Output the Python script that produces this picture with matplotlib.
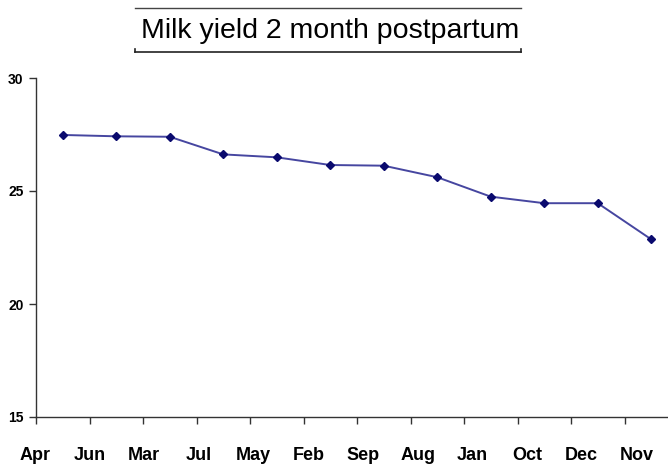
import matplotlib
matplotlib.use("Agg")
import matplotlib.pyplot as plt
import matplotlib.transforms as mtransforms
from matplotlib.lines import Line2D

months = ["Apr", "Jun", "Mar", "Jul", "May", "Feb",
          "Sep", "Aug", "Jan", "Oct", "Dec", "Nov"]
milk_yield = [27.48, 27.42, 27.40, 26.62, 26.49, 26.15,
              26.12, 25.61, 24.75, 24.46, 24.46, 22.86]
y_ticks = [15, 20, 25, 30]

plt.rcParams['font.family'] = ['Liberation Sans', 'DejaVu Sans']

fig = plt.figure(figsize=(6.68, 4.66), dpi=100)
ax = fig.add_axes([36 / 668, 49 / 466, 642 / 668, 339 / 466])

x = list(range(len(months)))
ax.plot(x, milk_yield, color="#4646a0", lw=1.4, marker="D", markersize=4.5,
        markerfacecolor="#0a0a6e", markeredgecolor="#0a0a6e", clip_on=False)

ax.set_xlim(-0.5, len(months) - 0.5)
ax.set_ylim(15, 30)
ax.set_yticks(y_ticks)
ax.set_yticklabels([str(t) for t in y_ticks], fontsize=10, fontweight="bold")
ax.set_xticks([i - 0.5 for i in x])
ax.set_xticklabels([])
ax.tick_params(axis="both", direction="out", length=5, width=1, color="#333333")
ax.tick_params(axis="y", pad=4)

for side in ["top", "right"]:
    ax.spines[side].set_visible(False)
for side in ["left", "bottom"]:
    ax.spines[side].set_color("#333333")
    ax.spines[side].set_linewidth(1)

# month names sit a little wider apart than the category slots
trans = mtransforms.blended_transform_factory(ax.transData, fig.transFigure)
for i, m in enumerate(months):
    ax.text(i - 0.52 + 0.022 * i, 10 / 466, m, transform=trans, ha="center",
            va="center", fontsize=13, fontweight="bold", clip_on=False)

# boxed title: rules above and below
fig.text(330 / 668, 1 - 31 / 466, "Milk yield 2 month postpartum",
         ha="center", va="center", fontsize=20.5)
x0, x1 = 135 / 668, 521 / 668
ytop, ybot = 1 - 8 / 466, 1 - 52 / 466
fig.add_artist(Line2D([x0, x1], [ytop, ytop], color="#444444", lw=1))
fig.add_artist(Line2D([x0, x1], [ybot, ybot], color="#222222", lw=1.2))
fig.add_artist(Line2D([x0, x0], [ybot, ybot + 3 / 466], color="#222222", lw=1.2))
fig.add_artist(Line2D([x1, x1], [ybot, ybot + 3 / 466], color="#222222", lw=1.2))

fig.savefig("out.png", dpi=100)
